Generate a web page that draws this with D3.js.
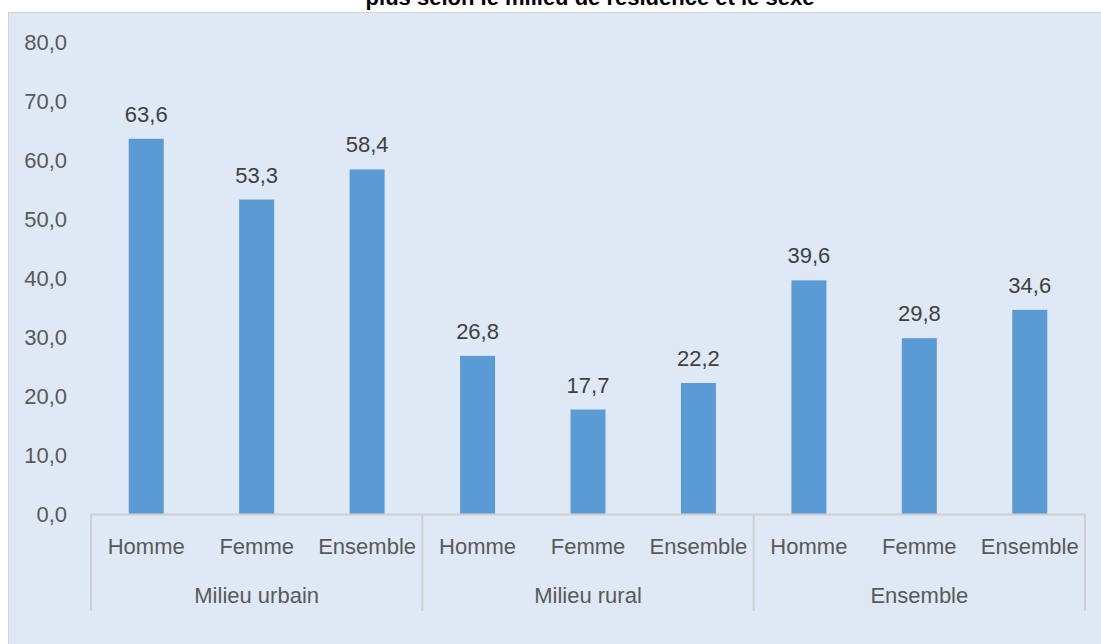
<!DOCTYPE html>
<html lang="fr">
<head>
<meta charset="utf-8">
<title>Chart</title>
<style>
  body { margin: 0; background: #fff; overflow: hidden; }
  svg text { font-family: "Liberation Sans Narrow", "Arial Narrow", "Liberation Sans", sans-serif; }
</style>
</head>
<body>
<svg width="1101" height="644"></svg>
<script src="https://d3js.org/d3.v7.min.js"></script>
<script>
// data
const groups = ["Milieu urbain", "Milieu rural", "Ensemble"]
const sexes = ["Homme", "Femme", "Ensemble"]
const values = [
  [63.6, 53.3, 58.4],
  [26.8, 17.7, 22.2],
  [39.6, 29.8, 34.6]
]
const yTicks = [0, 10, 20, 30, 40, 50, 60, 70, 80]
const title = "plus selon le milieu de résidence et le sexe"

const fmt = v => d3.format(".1f")(v).replace(".", ",")

const svg = d3.select("svg")

// panel background
svg.append("rect")
  .attr("x", 8.5).attr("y", 12.5)
  .attr("width", 1100).attr("height", 640)
  .attr("fill", "#dee9f5")
  .attr("stroke", "#d4d4d4")

// title, cut off by the top edge like in the source
svg.append("text")
  .attr("x", 590).attr("y", 5)
  .attr("text-anchor", "middle")
  .attr("font-size", 22)
  .attr("font-weight", "bold")
  .style("font-family", "Liberation Sans, Arial, sans-serif")
  .attr("fill", "#000")
  .text(title)

const mLeft = 91, mRight = 1085, mTop = 42, mBottom = 514

// scales
const x0 = d3.scaleBand().domain(groups).range([mLeft, mRight])
const x1 = d3.scaleBand().domain(sexes).range([0, x0.bandwidth()])
const y = d3.scaleLinear().domain([0, 80]).range([mBottom, mTop])

// y axis labels
const yAxis = svg.append("g")
  .attr("transform", "translate(67,0)")
  .call(d3.axisLeft(y).tickValues(yTicks).tickFormat(fmt).tickSize(0).tickPadding(0))
yAxis.select(".domain").remove()
yAxis.attr("font-family", null).attr("font-size", null)
yAxis.selectAll("text").attr("font-size", 22).attr("fill", "#595959")

// bars
const barW = 35
const g = svg.selectAll(".grp")
  .data(groups)
  .enter().append("g")
  .attr("transform", d => "translate(" + x0(d) + ",0)")

g.selectAll("rect")
  .data((d, i) => sexes.map((s, j) => ({ s: s, v: values[i][j] })))
  .enter().append("rect")
  .attr("x", d => x1(d.s) + x1.bandwidth() / 2 - barW / 2)
  .attr("y", d => y(d.v))
  .attr("width", barW)
  .attr("height", d => mBottom - y(d.v))
  .attr("fill", "#5b9bd5")

// value labels
g.selectAll("text.val")
  .data((d, i) => sexes.map((s, j) => ({ s: s, v: values[i][j] })))
  .enter().append("text")
  .attr("class", "val")
  .attr("text-anchor", "middle")
  .attr("x", d => x1(d.s) + x1.bandwidth() / 2)
  .attr("y", d => y(d.v) - 17)
  .attr("font-size", 22)
  .attr("fill", "#404040")
  .text(d => fmt(d.v))

// x axis line
svg.append("line")
  .attr("x1", mLeft).attr("x2", mRight)
  .attr("y1", mBottom + 0.5).attr("y2", mBottom + 0.5)
  .attr("stroke", "#d0d0d0").attr("stroke-width", 2)

// group separators
const seps = groups.map(d => x0(d)).concat([mRight])
svg.selectAll(".sep")
  .data(seps)
  .enter().append("line")
  .attr("x1", d => d).attr("x2", d => d)
  .attr("y1", mBottom).attr("y2", 611)
  .attr("stroke", "#d0d0d0").attr("stroke-width", 2)

// category labels
g.selectAll("text.cat")
  .data(sexes)
  .enter().append("text")
  .attr("text-anchor", "middle")
  .attr("x", d => x1(d) + x1.bandwidth() / 2)
  .attr("y", 554)
  .attr("font-size", 22)
  .attr("fill", "#595959")
  .text(d => d)

// group labels
svg.selectAll(".glab")
  .data(groups)
  .enter().append("text")
  .attr("text-anchor", "middle")
  .attr("x", d => x0(d) + x0.bandwidth() / 2)
  .attr("y", 603)
  .attr("font-size", 22)
  .attr("fill", "#595959")
  .text(d => d)
</script>
</body>
</html>
